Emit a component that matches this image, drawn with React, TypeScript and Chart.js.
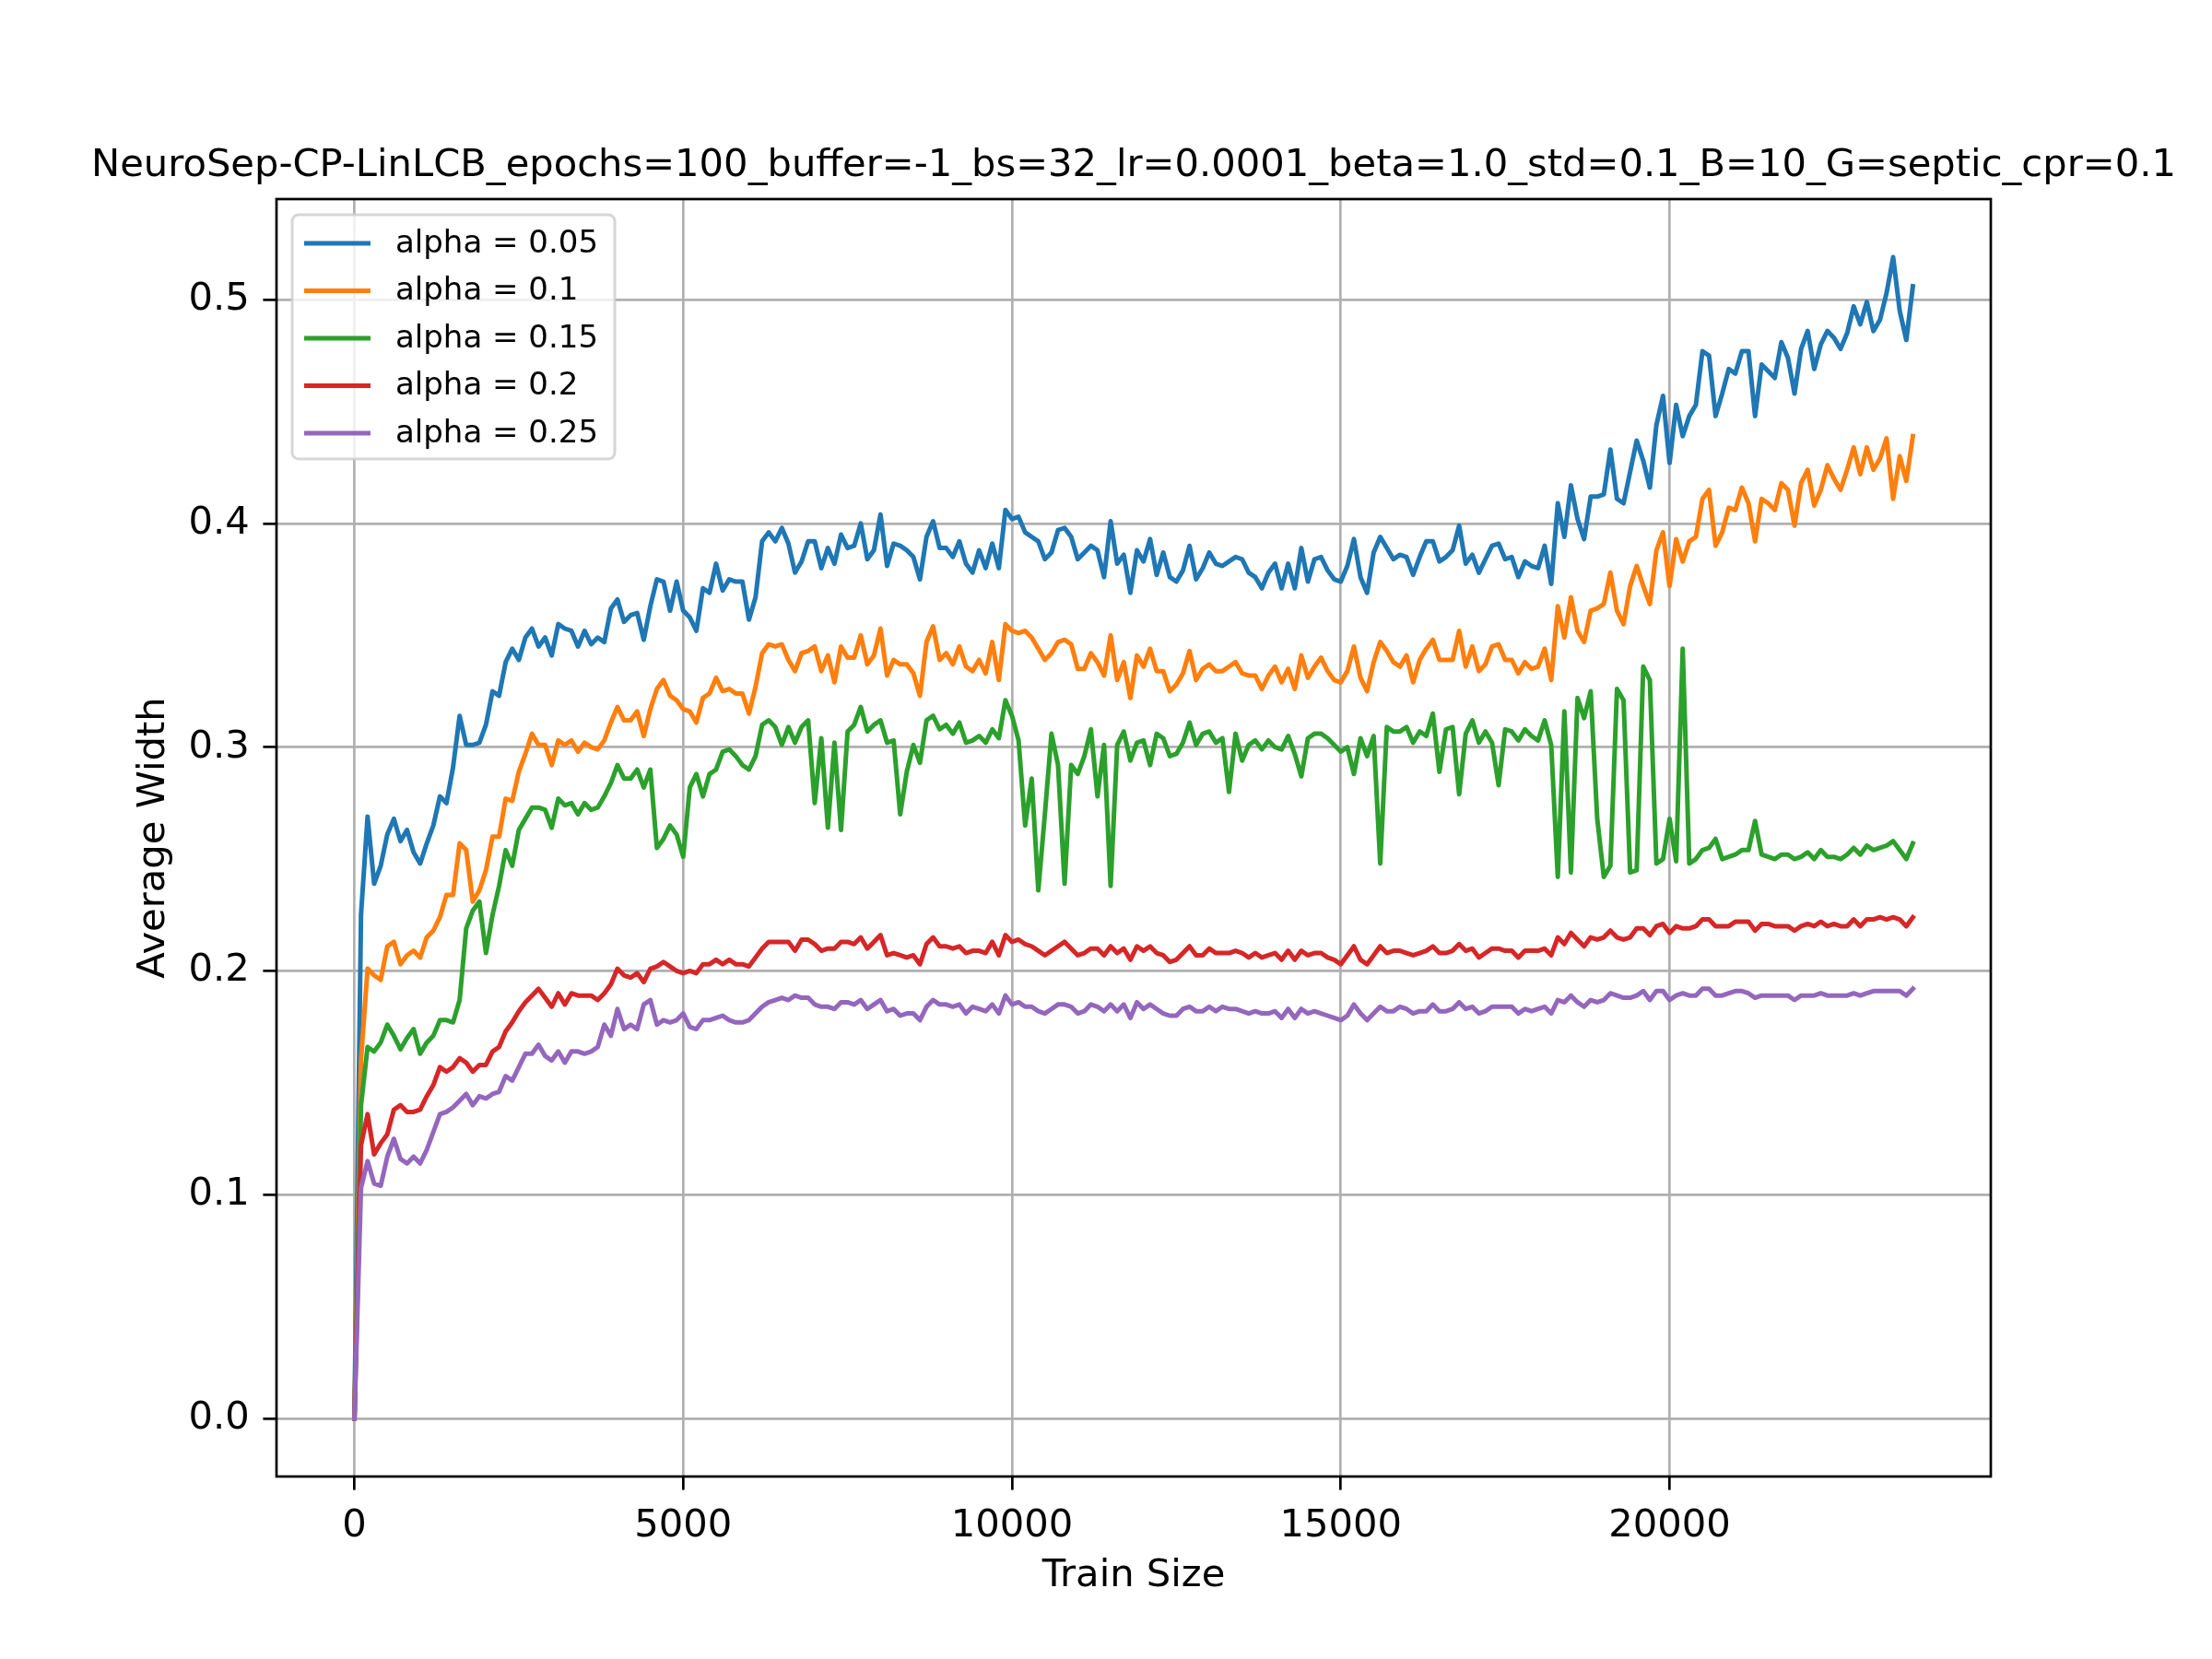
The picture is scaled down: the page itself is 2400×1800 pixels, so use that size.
import React, { useEffect, useRef } from "react";
import { Chart, registerables } from "chart.js";

Chart.register(...registerables);

const TITLE = "NeuroSep-CP-LinLCB_epochs=100_buffer=-1_bs=32_lr=0.0001_beta=1.0_std=0.1_B=10_G=septic_cpr=0.1";
const X_LABEL = "Train Size";
const Y_LABEL = "Average Width";
const X_TICKS = [0, 5000, 10000, 15000, 20000];
const Y_TICKS = [0.0, 0.1, 0.2, 0.3, 0.4, 0.5];
const SERIES_LABELS = ["alpha = 0.05", "alpha = 0.1", "alpha = 0.15", "alpha = 0.2", "alpha = 0.25"];
const SERIES_COLORS = ["#1f77b4", "#ff7f0e", "#2ca02c", "#d62728", "#9467bd"];

const trainSize = [
  0, 100, 200, 300, 400, 500, 600, 700, 800, 900,
  1000, 1100, 1200, 1300, 1400, 1500, 1600, 1700, 1800, 1900,
  2000, 2100, 2200, 2300, 2400, 2500, 2600, 2700, 2800, 2900,
  3000, 3100, 3200, 3300, 3400, 3500, 3600, 3700, 3800, 3900,
  4000, 4100, 4200, 4300, 4400, 4500, 4600, 4700, 4800, 4900,
  5000, 5100, 5200, 5300, 5400, 5500, 5600, 5700, 5800, 5900,
  6000, 6100, 6200, 6300, 6400, 6500, 6600, 6700, 6800, 6900,
  7000, 7100, 7200, 7300, 7400, 7500, 7600, 7700, 7800, 7900,
  8000, 8100, 8200, 8300, 8400, 8500, 8600, 8700, 8800, 8900,
  9000, 9100, 9200, 9300, 9400, 9500, 9600, 9700, 9800, 9900,
  10000, 10100, 10200, 10300, 10400, 10500, 10600, 10700, 10800, 10900,
  11000, 11100, 11200, 11300, 11400, 11500, 11600, 11700, 11800, 11900,
  12000, 12100, 12200, 12300, 12400, 12500, 12600, 12700, 12800, 12900,
  13000, 13100, 13200, 13300, 13400, 13500, 13600, 13700, 13800, 13900,
  14000, 14100, 14200, 14300, 14400, 14500, 14600, 14700, 14800, 14900,
  15000, 15100, 15200, 15300, 15400, 15500, 15600, 15700, 15800, 15900,
  16000, 16100, 16200, 16300, 16400, 16500, 16600, 16700, 16800, 16900,
  17000, 17100, 17200, 17300, 17400, 17500, 17600, 17700, 17800, 17900,
  18000, 18100, 18200, 18300, 18400, 18500, 18600, 18700, 18800, 18900,
  19000, 19100, 19200, 19300, 19400, 19500, 19600, 19700, 19800, 19900,
  20000, 20100, 20200, 20300, 20400, 20500, 20600, 20700, 20800, 20900,
  21000, 21100, 21200, 21300, 21400, 21500, 21600, 21700, 21800, 21900,
  22000, 22100, 22200, 22300, 22400, 22500, 22600, 22700, 22800, 22900,
  23000, 23100, 23200, 23300, 23400, 23500, 23600, 23700,
];

const alpha005 = [
  0, 0.225, 0.269, 0.239, 0.247, 0.261, 0.268, 0.258, 0.263, 0.253, 0.248,
  0.257, 0.265, 0.278, 0.275, 0.291, 0.314, 0.301, 0.301, 0.302, 0.310,
  0.325, 0.323, 0.338, 0.344, 0.339, 0.349, 0.353, 0.345, 0.349, 0.341,
  0.355, 0.353, 0.352, 0.345, 0.352, 0.346, 0.349, 0.347, 0.362, 0.366,
  0.356, 0.359, 0.360, 0.348, 0.363, 0.375, 0.374, 0.361, 0.374, 0.361,
  0.358, 0.352, 0.371, 0.369, 0.382, 0.370, 0.375, 0.374, 0.374, 0.357,
  0.367, 0.392, 0.396, 0.392, 0.398, 0.391, 0.378, 0.383, 0.392, 0.392,
  0.380, 0.389, 0.382, 0.395, 0.389, 0.390, 0.400, 0.384, 0.388, 0.404,
  0.381, 0.391, 0.390, 0.388, 0.385, 0.375, 0.394, 0.401, 0.389, 0.389,
  0.385, 0.392, 0.382, 0.378, 0.388, 0.380, 0.391, 0.380, 0.406, 0.402,
  0.403, 0.396, 0.394, 0.392, 0.384, 0.387, 0.397, 0.398, 0.394, 0.384,
  0.387, 0.390, 0.388, 0.376, 0.401, 0.382, 0.386, 0.369, 0.388, 0.383,
  0.393, 0.377, 0.387, 0.376, 0.374, 0.379, 0.390, 0.375, 0.380, 0.387,
  0.382, 0.381, 0.383, 0.385, 0.384, 0.378, 0.376, 0.371, 0.378, 0.382,
  0.371, 0.382, 0.371, 0.389, 0.374, 0.384, 0.385, 0.379, 0.375, 0.374,
  0.381, 0.393, 0.376, 0.369, 0.387, 0.394, 0.389, 0.384, 0.386, 0.385,
  0.377, 0.385, 0.392, 0.392, 0.383, 0.385, 0.388, 0.399, 0.382, 0.386,
  0.378, 0.384, 0.390, 0.391, 0.384, 0.385, 0.376, 0.383, 0.381, 0.380,
  0.390, 0.373, 0.409, 0.394, 0.417, 0.402, 0.393, 0.412, 0.412, 0.413,
  0.433, 0.411, 0.409, 0.423, 0.437, 0.428, 0.416, 0.444, 0.457, 0.427,
  0.453, 0.439, 0.448, 0.453, 0.477, 0.475, 0.448, 0.458, 0.469, 0.467,
  0.477, 0.477, 0.448, 0.471, 0.468, 0.465, 0.481, 0.474, 0.458, 0.478,
  0.486, 0.469, 0.480, 0.486, 0.483, 0.478, 0.485, 0.497, 0.489, 0.499,
  0.486, 0.491, 0.503, 0.519, 0.495, 0.482, 0.506,
];

const alpha010 = [
  0, 0.160, 0.201, 0.198, 0.196, 0.211, 0.213, 0.203, 0.207, 0.209, 0.206,
  0.215, 0.218, 0.224, 0.234, 0.234, 0.257, 0.254, 0.231, 0.236, 0.245,
  0.260, 0.260, 0.277, 0.276, 0.289, 0.297, 0.306, 0.301, 0.301, 0.292,
  0.303, 0.301, 0.303, 0.298, 0.302, 0.300, 0.299, 0.303, 0.311, 0.318,
  0.312, 0.312, 0.316, 0.305, 0.317, 0.326, 0.330, 0.323, 0.321, 0.317,
  0.316, 0.311, 0.322, 0.324, 0.331, 0.325, 0.326, 0.324, 0.324, 0.315,
  0.327, 0.342, 0.346, 0.345, 0.346, 0.339, 0.334, 0.342, 0.343, 0.345,
  0.334, 0.341, 0.329, 0.345, 0.340, 0.340, 0.350, 0.337, 0.341, 0.353,
  0.332, 0.339, 0.337, 0.337, 0.333, 0.323, 0.347, 0.354, 0.339, 0.342,
  0.337, 0.345, 0.336, 0.334, 0.339, 0.333, 0.347, 0.330, 0.355, 0.352,
  0.351, 0.352, 0.349, 0.344, 0.339, 0.342, 0.347, 0.348, 0.346, 0.335,
  0.335, 0.342, 0.338, 0.332, 0.350, 0.330, 0.338, 0.322, 0.341, 0.336,
  0.344, 0.334, 0.334, 0.325, 0.328, 0.333, 0.343, 0.330, 0.335, 0.337,
  0.334, 0.334, 0.336, 0.338, 0.333, 0.332, 0.332, 0.326, 0.332, 0.336,
  0.329, 0.335, 0.326, 0.341, 0.331, 0.336, 0.340, 0.334, 0.330, 0.329,
  0.334, 0.345, 0.331, 0.325, 0.338, 0.347, 0.343, 0.338, 0.336, 0.341,
  0.329, 0.339, 0.344, 0.348, 0.339, 0.339, 0.339, 0.352, 0.336, 0.345,
  0.334, 0.337, 0.345, 0.346, 0.339, 0.339, 0.333, 0.338, 0.335, 0.336,
  0.344, 0.330, 0.363, 0.349, 0.367, 0.352, 0.347, 0.361, 0.362, 0.364,
  0.378, 0.361, 0.355, 0.372, 0.381, 0.372, 0.364, 0.388, 0.396, 0.372,
  0.393, 0.383, 0.392, 0.394, 0.411, 0.415, 0.390, 0.396, 0.407, 0.406,
  0.416, 0.409, 0.392, 0.411, 0.409, 0.406, 0.418, 0.415, 0.399, 0.418,
  0.424, 0.408, 0.415, 0.426, 0.420, 0.415, 0.424, 0.434, 0.422, 0.434,
  0.424, 0.429, 0.438, 0.411, 0.430, 0.419, 0.439,
];

const alpha015 = [
  0, 0.140, 0.166, 0.164, 0.168, 0.176, 0.171, 0.165, 0.170, 0.174, 0.163,
  0.168, 0.171, 0.178, 0.178, 0.177, 0.187, 0.219, 0.227, 0.231, 0.208,
  0.225, 0.238, 0.254, 0.247, 0.263, 0.268, 0.273, 0.273, 0.272, 0.264,
  0.277, 0.274, 0.275, 0.270, 0.275, 0.272, 0.273, 0.278, 0.284, 0.292,
  0.286, 0.286, 0.290, 0.282, 0.290, 0.255, 0.259, 0.265, 0.261, 0.251,
  0.282, 0.288, 0.278, 0.288, 0.290, 0.298, 0.299, 0.296, 0.292, 0.290,
  0.296, 0.310, 0.312, 0.309, 0.301, 0.309, 0.302, 0.309, 0.312, 0.275,
  0.304, 0.264, 0.302, 0.263, 0.307, 0.310, 0.318, 0.307, 0.310, 0.312,
  0.302, 0.303, 0.270, 0.289, 0.301, 0.293, 0.312, 0.314, 0.308, 0.310,
  0.306, 0.311, 0.302, 0.303, 0.305, 0.302, 0.308, 0.304, 0.321, 0.314,
  0.303, 0.265, 0.286, 0.236, 0.270, 0.306, 0.292, 0.239, 0.292, 0.288,
  0.296, 0.308, 0.278, 0.301, 0.238, 0.301, 0.307, 0.294, 0.302, 0.303,
  0.292, 0.306, 0.304, 0.296, 0.297, 0.302, 0.311, 0.301, 0.306, 0.307,
  0.302, 0.304, 0.280, 0.306, 0.294, 0.301, 0.303, 0.299, 0.303, 0.300,
  0.299, 0.305, 0.297, 0.287, 0.304, 0.306, 0.306, 0.304, 0.301, 0.298,
  0.300, 0.288, 0.304, 0.296, 0.305, 0.248, 0.309, 0.307, 0.307, 0.309,
  0.302, 0.307, 0.305, 0.315, 0.289, 0.308, 0.309, 0.279, 0.306, 0.312,
  0.302, 0.307, 0.302, 0.283, 0.308, 0.307, 0.303, 0.308, 0.305, 0.303,
  0.312, 0.301, 0.242, 0.316, 0.244, 0.322, 0.313, 0.325, 0.268, 0.242,
  0.247, 0.326, 0.321, 0.244, 0.245, 0.336, 0.330, 0.248, 0.250, 0.268,
  0.249, 0.344, 0.248, 0.250, 0.254, 0.255, 0.259, 0.250, 0.251, 0.252,
  0.254, 0.254, 0.267, 0.252, 0.251, 0.250, 0.252, 0.252, 0.250, 0.251,
  0.253, 0.250, 0.254, 0.251, 0.251, 0.250, 0.252, 0.255, 0.252, 0.256,
  0.254, 0.255, 0.256, 0.258, 0.254, 0.250, 0.257,
];

const alpha020 = [
  0, 0.122, 0.136, 0.118, 0.123, 0.127, 0.138, 0.140, 0.137, 0.137, 0.138,
  0.144, 0.149, 0.157, 0.155, 0.157, 0.161, 0.159, 0.155, 0.158, 0.158,
  0.164, 0.166, 0.173, 0.177, 0.182, 0.186, 0.189, 0.192, 0.188, 0.184,
  0.190, 0.185, 0.190, 0.189, 0.189, 0.189, 0.187, 0.190, 0.194, 0.201,
  0.198, 0.197, 0.199, 0.195, 0.201, 0.202, 0.204, 0.202, 0.200, 0.199,
  0.200, 0.199, 0.203, 0.203, 0.205, 0.203, 0.205, 0.203, 0.203, 0.202,
  0.206, 0.210, 0.213, 0.213, 0.213, 0.213, 0.209, 0.214, 0.214, 0.212,
  0.209, 0.210, 0.210, 0.213, 0.213, 0.212, 0.215, 0.210, 0.213, 0.216,
  0.207, 0.208, 0.207, 0.206, 0.207, 0.203, 0.212, 0.215, 0.211, 0.211,
  0.210, 0.211, 0.208, 0.209, 0.209, 0.208, 0.213, 0.207, 0.216, 0.213,
  0.214, 0.212, 0.211, 0.209, 0.207, 0.209, 0.211, 0.213, 0.210, 0.207,
  0.208, 0.210, 0.210, 0.207, 0.211, 0.208, 0.210, 0.205, 0.211, 0.209,
  0.211, 0.208, 0.207, 0.204, 0.205, 0.208, 0.211, 0.207, 0.207, 0.210,
  0.208, 0.208, 0.208, 0.209, 0.208, 0.206, 0.208, 0.206, 0.207, 0.208,
  0.205, 0.209, 0.205, 0.209, 0.207, 0.208, 0.208, 0.206, 0.205, 0.203,
  0.207, 0.211, 0.205, 0.203, 0.207, 0.211, 0.208, 0.209, 0.209, 0.208,
  0.207, 0.208, 0.209, 0.211, 0.208, 0.208, 0.209, 0.212, 0.209, 0.210,
  0.206, 0.208, 0.210, 0.210, 0.209, 0.209, 0.206, 0.209, 0.209, 0.209,
  0.210, 0.207, 0.215, 0.212, 0.217, 0.214, 0.211, 0.215, 0.214, 0.215,
  0.218, 0.215, 0.214, 0.215, 0.219, 0.219, 0.216, 0.220, 0.221, 0.217,
  0.220, 0.219, 0.219, 0.220, 0.223, 0.223, 0.220, 0.220, 0.220, 0.222,
  0.222, 0.222, 0.218, 0.221, 0.221, 0.220, 0.220, 0.220, 0.218, 0.220,
  0.221, 0.220, 0.222, 0.220, 0.221, 0.220, 0.220, 0.223, 0.220, 0.223,
  0.223, 0.224, 0.223, 0.224, 0.223, 0.220, 0.224,
];

const alpha025 = [
  0, 0.103, 0.115, 0.105, 0.104, 0.117, 0.125, 0.116, 0.114, 0.117, 0.114,
  0.120, 0.128, 0.136, 0.137, 0.139, 0.142, 0.145, 0.140, 0.144, 0.143,
  0.145, 0.146, 0.153, 0.151, 0.157, 0.163, 0.163, 0.167, 0.162, 0.160,
  0.164, 0.159, 0.164, 0.164, 0.163, 0.164, 0.166, 0.176, 0.171, 0.183,
  0.174, 0.176, 0.174, 0.185, 0.187, 0.176, 0.178, 0.177, 0.178, 0.181,
  0.175, 0.174, 0.178, 0.178, 0.179, 0.180, 0.178, 0.177, 0.177, 0.178,
  0.181, 0.184, 0.186, 0.187, 0.188, 0.187, 0.189, 0.188, 0.188, 0.185,
  0.184, 0.184, 0.183, 0.186, 0.186, 0.185, 0.187, 0.183, 0.185, 0.187,
  0.182, 0.183, 0.180, 0.181, 0.181, 0.178, 0.184, 0.187, 0.185, 0.185,
  0.184, 0.185, 0.181, 0.184, 0.183, 0.182, 0.185, 0.181, 0.189, 0.185,
  0.186, 0.184, 0.184, 0.182, 0.181, 0.183, 0.185, 0.185, 0.184, 0.181,
  0.182, 0.185, 0.184, 0.182, 0.185, 0.182, 0.185, 0.179, 0.186, 0.183,
  0.185, 0.183, 0.181, 0.180, 0.180, 0.183, 0.184, 0.182, 0.182, 0.184,
  0.182, 0.184, 0.183, 0.183, 0.182, 0.181, 0.182, 0.181, 0.181, 0.182,
  0.179, 0.183, 0.179, 0.183, 0.181, 0.182, 0.181, 0.180, 0.179, 0.178,
  0.180, 0.185, 0.181, 0.178, 0.181, 0.184, 0.182, 0.182, 0.184, 0.183,
  0.181, 0.182, 0.182, 0.185, 0.182, 0.182, 0.183, 0.186, 0.183, 0.184,
  0.181, 0.182, 0.184, 0.184, 0.184, 0.184, 0.181, 0.183, 0.182, 0.183,
  0.184, 0.181, 0.187, 0.186, 0.189, 0.186, 0.184, 0.187, 0.186, 0.187,
  0.190, 0.189, 0.188, 0.188, 0.189, 0.191, 0.187, 0.191, 0.191, 0.187,
  0.189, 0.190, 0.189, 0.189, 0.192, 0.192, 0.189, 0.189, 0.190, 0.191,
  0.191, 0.190, 0.188, 0.189, 0.189, 0.189, 0.189, 0.189, 0.187, 0.189,
  0.189, 0.189, 0.190, 0.189, 0.189, 0.189, 0.189, 0.190, 0.189, 0.190,
  0.191, 0.191, 0.191, 0.191, 0.191, 0.189, 0.192,
];

const FONT_FAMILY = "'DejaVu Sans', 'Liberation Sans', sans-serif";
const PT = 300 / 72;
const FS = 10 * PT; // ticks & axis labels
const TITLE_FS = 10 * PT;
const LEGEND_FS = 34;
const LINE_W = 5;
const GRID_W = 2.7;
const TICK_LEN = 3.5 * PT;
const TICK_PAD = 3.5 * PT;
const W = 2400;
const H = 1800;
const AX_LEFT = 300;
const AX_RIGHT = 2160;
const AX_TOP = 216;
const AX_BOTTOM = 1602;

const decorPlugin = {
  id: "mplDecor",
  afterDatasetsDraw(chart: any) {
    const ctx = chart.ctx as CanvasRenderingContext2D;
    const a = chart.chartArea;
    ctx.save();
    // spines
    ctx.strokeStyle = "#000000";
    ctx.lineWidth = GRID_W;
    ctx.strokeRect(a.left, a.top, a.right - a.left, a.bottom - a.top);

    // legend
    const bx = a.left + 17;
    const by = a.top + 17;
    const bw = 350;
    const bh = 265;
    const r = 7;
    ctx.beginPath();
    ctx.moveTo(bx + r, by);
    ctx.lineTo(bx + bw - r, by);
    ctx.arcTo(bx + bw, by, bx + bw, by + r, r);
    ctx.lineTo(bx + bw, by + bh - r);
    ctx.arcTo(bx + bw, by + bh, bx + bw - r, by + bh, r);
    ctx.lineTo(bx + r, by + bh);
    ctx.arcTo(bx, by + bh, bx, by + bh - r, r);
    ctx.lineTo(bx, by + r);
    ctx.arcTo(bx, by, bx + r, by, r);
    ctx.closePath();
    ctx.fillStyle = "rgba(255,255,255,0.8)";
    ctx.fill();
    ctx.strokeStyle = "rgba(204,204,204,0.8)";
    ctx.lineWidth = 3;
    ctx.stroke();

    ctx.font = `${LEGEND_FS}px ${FONT_FAMILY}`;
    ctx.textAlign = "left";
    ctx.textBaseline = "middle";
    const rowTop = by + 31;
    const pitch = 51.5;
    for (let i = 0; i < SERIES_LABELS.length; i++) {
      const yy = rowTop + i * pitch;
      ctx.strokeStyle = SERIES_COLORS[i];
      ctx.lineWidth = LINE_W;
      ctx.lineCap = "butt";
      ctx.beginPath();
      ctx.moveTo(330, yy);
      ctx.lineTo(402, yy);
      ctx.stroke();
      ctx.fillStyle = "#000000";
      ctx.fillText(SERIES_LABELS[i], 429, yy + 1);
    }
    ctx.restore();
  },
  afterDraw(chart: any) {
    const ctx = chart.ctx as CanvasRenderingContext2D;
    const a = chart.chartArea;
    const cx = (a.left + a.right) / 2;
    ctx.save();
    ctx.fillStyle = "#000000";
    // title
    ctx.font = `${TITLE_FS}px ${FONT_FAMILY}`;
    ctx.textAlign = "center";
    ctx.textBaseline = "alphabetic";
    ctx.fillText(TITLE, cx, a.top - 6 * PT);
    // x label
    ctx.font = `${FS}px ${FONT_FAMILY}`;
    ctx.textBaseline = "alphabetic";
    ctx.fillText(X_LABEL, cx, 1721);
    // y label
    ctx.translate(167, (a.top + a.bottom) / 2);
    ctx.rotate(-Math.PI / 2);
    ctx.textAlign = "center";
    ctx.textBaseline = "middle";
    ctx.fillText(Y_LABEL, 0, 0);
    ctx.restore();
  },
};

export default function App() {
  const canvasRef = useRef<HTMLCanvasElement | null>(null);

  useEffect(() => {
    const canvas = canvasRef.current;
    if (!canvas) return;
    const series = [alpha005, alpha010, alpha015, alpha020, alpha025];
    const allY = series.flat();
    const yMin = Math.min(...allY);
    const yMax = Math.max(...allY);
    const xMin = Math.min(...trainSize);
    const xMax = Math.max(...trainSize);
    const xm = 0.05 * (xMax - xMin);
    const ym = 0.05 * (yMax - yMin);

    const datasets = series.map((vals, i) => ({
      label: SERIES_LABELS[i],
      data: vals.map((y, j) => ({ x: trainSize[j], y })),
      borderColor: SERIES_COLORS[i],
      backgroundColor: SERIES_COLORS[i],
      borderWidth: LINE_W,
      pointRadius: 0,
      pointHoverRadius: 0,
      tension: 0,
      fill: false,
      borderJoinStyle: "round" as const,
      borderCapStyle: "square" as const,
      order: series.length - i,
    }));

    const tickFont = { family: FONT_FAMILY, size: FS };
    const gridOpts = {
      color: "#b0b0b0",
      lineWidth: GRID_W,
      tickLength: TICK_LEN,
      tickColor: "#000000",
      tickWidth: GRID_W,
    };

    const chart = new Chart(canvas, {
      type: "line",
      data: { datasets },
      plugins: [decorPlugin],
      options: {
        animation: false,
        responsive: false,
        devicePixelRatio: 1,
        events: [],
        layout: {
          autoPadding: false,
          padding: { left: 0, top: AX_TOP, right: W - AX_RIGHT, bottom: 0 },
        },
        plugins: {
          legend: { display: false },
          title: { display: false },
          tooltip: { enabled: false },
        },
        scales: {
          x: {
            type: "linear",
            min: xMin - xm,
            max: xMax + xm,
            afterBuildTicks: (scale: any) => {
              scale.ticks = X_TICKS.map((v) => ({ value: v }));
            },
            afterFit: (scale: any) => {
              scale.height = H - AX_BOTTOM;
            },
            ticks: {
              autoSkip: false,
              maxRotation: 0,
              minRotation: 0,
              padding: TICK_PAD,
              color: "#000000",
              font: tickFont,
              callback: (v: any) => String(v),
            },
            grid: gridOpts,
            border: { display: false },
          },
          y: {
            type: "linear",
            min: yMin - ym,
            max: yMax + ym,
            afterBuildTicks: (scale: any) => {
              scale.ticks = Y_TICKS.map((v) => ({ value: v }));
            },
            afterFit: (scale: any) => {
              scale.width = AX_LEFT;
            },
            ticks: {
              autoSkip: false,
              padding: TICK_PAD,
              color: "#000000",
              font: tickFont,
              callback: (v: any) => Number(v).toFixed(1),
            },
            grid: gridOpts,
            border: { display: false },
          },
        },
      },
    });
    return () => chart.destroy();
  }, []);

  return (
    <div style={{ position: "fixed", left: 0, top: 0, width: W, height: H, background: "#ffffff" }}>
      <canvas ref={canvasRef} width={W} height={H} style={{ width: W, height: H, display: "block" }} />
    </div>
  );
}
